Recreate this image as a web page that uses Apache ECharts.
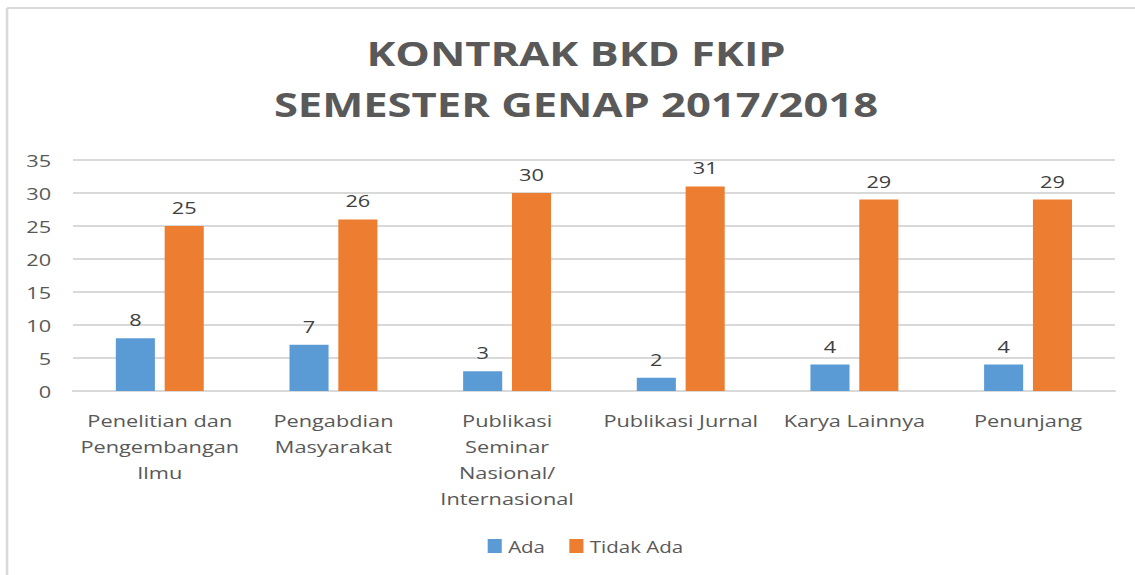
<!DOCTYPE html>
<html>
<head>
<meta charset="utf-8">
<script src="https://cdn.jsdelivr.net/npm/echarts@6/dist/echarts.min.js"></script>
<style>
  html, body { margin: 0; padding: 0; background: #fff; }
  #wrap { width: 1135px; height: 575px; overflow: hidden; position: relative; }
  /* the reference is stretched sideways, so draw narrower and stretch */
  #chart { width: 900px; height: 575px; transform: scaleX(1.28); transform-origin: left top; }
  #edge { position: absolute; left: 1118px; top: 10px; width: 17px; height: 565px; background: #fff; z-index: 10; }
</style>
</head>
<body>
<div id="wrap"><div id="chart"></div><div id="edge"></div></div>
<script>
var categories = [
  "Penelitian dan\nPengembangan\nIlmu",
  "Pengabdian\nMasyarakat",
  "Publikasi\nSeminar\nNasional/\nInternasional",
  "Publikasi Jurnal",
  "Karya Lainnya",
  "Penunjang"
];
var ada = [8, 7, 3, 2, 4, 4];
var tidakAda = [25, 26, 30, 31, 29, 29];
var yTicks = { min: 0, max: 35, interval: 5 };

var chart = echarts.init(document.getElementById("chart"), null, { renderer: "svg" });
var font = "'Open Sans', sans-serif";
var frame = { stroke: "#d9d9d9", lineWidth: 2 };

var option = {
  animation: false,
  backgroundColor: "#fff",
  graphic: [
    // only the top and left edges of the frame are inside the picture
    { type: "line", silent: true, shape: { x1: 5.5, y1: 8, x2: 900, y2: 8 }, style: frame },
    { type: "line", silent: true, shape: { x1: 5.5, y1: 8, x2: 5.5, y2: 575 }, style: frame }
  ],
  title: {
    text: "KONTRAK BKD FKIP\nSEMESTER GENAP 2017/2018",
    left: "center",
    top: 22,
    textStyle: {
      fontFamily: font,
      fontWeight: "bold",
      fontSize: 34,
      lineHeight: 51,
      color: "#595959"
    }
  },
  legend: {
    bottom: 16,
    left: 376,
    itemWidth: 11,
    itemHeight: 14,
    itemGap: 19,
    icon: "rect",
    textStyle: { fontFamily: font, fontSize: 16, color: "#595959" },
    data: ["Ada", "Tidak Ada"]
  },
  grid: { left: 57, right: 29, top: 160, bottom: 184 },
  xAxis: {
    type: "category",
    data: categories,
    axisLine: { lineStyle: { color: "#d9d9d9", width: 2 } },
    axisTick: { show: false },
    axisLabel: {
      fontFamily: font,
      fontSize: 17,
      lineHeight: 26,
      color: "#595959",
      margin: 16,
      interval: 0
    }
  },
  yAxis: {
    type: "value",
    min: yTicks.min,
    max: yTicks.max,
    interval: yTicks.interval,
    axisLine: { show: false },
    axisTick: { show: false },
    splitLine: { lineStyle: { color: "#d9d9d9", width: 2 } },
    axisLabel: {
      fontFamily: font,
      fontSize: 17,
      color: "#595959",
      margin: 17
    }
  },
  series: [
    {
      name: "Ada",
      type: "bar",
      data: ada,
      barWidth: "22.5%",
      barGap: "25%",
      itemStyle: { color: "#5b9bd5" },
      label: {
        show: true,
        position: "top",
        distance: 10,
        fontFamily: font,
        fontSize: 17,
        color: "#404040"
      }
    },
    {
      name: "Tidak Ada",
      type: "bar",
      data: tidakAda,
      barWidth: "22.5%",
      barGap: "25%",
      itemStyle: { color: "#ed7d31" },
      label: {
        show: true,
        position: "top",
        distance: 10,
        fontFamily: font,
        fontSize: 17,
        color: "#404040"
      }
    }
  ]
};

chart.setOption(option);
</script>
</body>
</html>
